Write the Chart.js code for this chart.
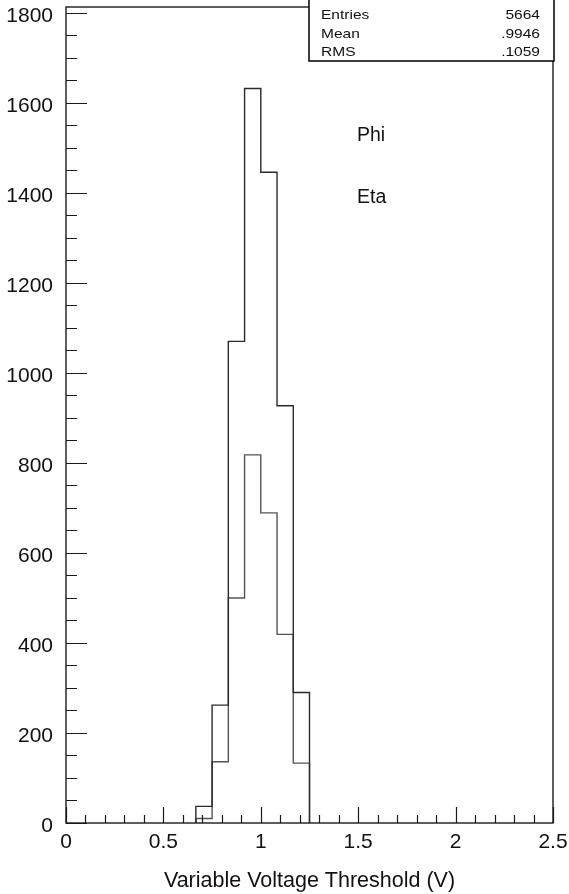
<!DOCTYPE html>
<html>
<head>
<meta charset="utf-8">
<script src="https://cdn.jsdelivr.net/npm/chart.js@4.4.1/dist/chart.umd.min.js"></script>
<style>
  html, body { margin: 0; padding: 0; background: #fff; }
  #wrap { width: 569px; height: 894px; }
</style>
</head>
<body>
<div id="wrap"><canvas id="histChart" width="569" height="894"></canvas></div>
<script>
// bin edges of the filled bins (30 bins over 0..2.5, width 1/12)
const binEdges = [8 / 12, 9 / 12, 10 / 12, 11 / 12, 12 / 12, 13 / 12, 14 / 12, 15 / 12];
// outer histogram (all entries) and inner histogram
const outerCounts = [37, 262, 1070, 1632, 1446, 927, 290];
const innerCounts = [10, 136, 500, 818, 689, 419, 133];
const xTickValues = [0, 0.5, 1, 1.5, 2, 2.5];
const yTickValues = [0, 200, 400, 600, 800, 1000, 1200, 1400, 1600, 1800];
const statLabels = ["Entries", "Mean", "RMS"];
const statValues = ["5664", ".9946", ".1059"];
const notes = ["Phi", "Eta"];

const FONT = "'Liberation Sans', Arial, Helvetica, sans-serif";

// turn bin counts into the outline points of a step histogram
const toSteps = (edges, counts) => {
  const pts = [{ x: edges[0], y: 0 }];
  counts.forEach((c, i) => pts.push({ x: edges[i], y: c }));
  pts.push({ x: edges[edges.length - 1], y: 0 });
  return pts;
};

const rootFrame = {
  id: "rootFrame",
  afterDraw(c) {
    const { ctx, chartArea: a, scales } = c;
    const xs = scales.x, ys = scales.y;
    ctx.save();
    ctx.strokeStyle = "#1a1a1a";
    ctx.lineWidth = 1.4;
    ctx.strokeRect(a.left, a.top, a.right - a.left, a.bottom - a.top);

    // inward ticks on the left axis (4 per major step)
    ctx.lineWidth = 1.2;
    ctx.beginPath();
    const step = yTickValues[1] - yTickValues[0];
    for (let v = 0; v <= ys.max; v += step / 4) {
      const py = Math.round(ys.getPixelForValue(v)) + 0.5;
      const len = v % step === 0 ? 21 : 11;
      ctx.moveTo(a.left, py);
      ctx.lineTo(a.left + len, py);
    }
    // inward ticks on the bottom axis
    for (let k = 0; k <= 25; k++) {
      const px = Math.round(xs.getPixelForValue(k / 10)) + 0.5;
      const len = k % 5 === 0 ? 16 : 8;
      ctx.moveTo(px, a.bottom);
      ctx.lineTo(px, a.bottom - len);
    }
    ctx.stroke();

    // stats box
    const bx = 309, by = -2, bw = 245, bh = 63;
    ctx.fillStyle = "#fff";
    ctx.fillRect(bx, by, bw, bh);
    ctx.strokeStyle = "#000";
    ctx.lineWidth = 1.5;
    ctx.strokeRect(bx, by, bw, bh);
    ctx.fillStyle = "#111";
    ctx.font = "13.5px " + FONT;
    ctx.textBaseline = "alphabetic";
    const sx = 1.15; // the original text is a bit stretched sideways
    statLabels.forEach((lab, i) => {
      const y = 19 + i * 18.5;
      ctx.save();
      ctx.scale(sx, 1);
      ctx.textAlign = "left";
      ctx.fillText(lab, 321 / sx, y);
      ctx.textAlign = "right";
      ctx.fillText(statValues[i], 540 / sx, y);
      ctx.restore();
    });

    // text annotations
    ctx.font = "19.5px " + FONT;
    ctx.textAlign = "left";
    ctx.fillText(notes[0], 357, 141);
    ctx.fillText(notes[1], 357, 203);
    ctx.restore();
  },
};

new Chart(document.getElementById("histChart"), {
  type: "line",
  data: {
    datasets: [
      {
        label: "outer",
        data: toSteps(binEdges, outerCounts),
        borderColor: "#2a2a2a",
        borderWidth: 1.4,
        stepped: "before",
        pointRadius: 0,
        fill: false,
      },
      {
        label: "inner",
        data: toSteps(binEdges, innerCounts),
        borderColor: "#555",
        borderWidth: 1.4,
        stepped: "before",
        pointRadius: 0,
        fill: false,
      },
    ],
  },
  options: {
    responsive: false,
    animation: false,
    layout: {
      padding: { top: 7, right: 16, left: 0, bottom: 0 },
    },
    scales: {
      x: {
        type: "linear",
        min: 0,
        max: 2.5,
        afterFit: (s) => {
          s.height = 71;
          s.paddingLeft = 0;
          s.paddingRight = 0;
        },
        afterBuildTicks: (s) => { s.ticks = xTickValues.map((v) => ({ value: v })); },
        grid: { display: false, drawTicks: false },
        border: { display: false },
        ticks: {
          autoSkip: false,
          maxRotation: 0,
          padding: 7,
          color: "#111",
          font: { family: FONT, size: 21 },
          callback: (v) => String(Math.round(v * 10) / 10),
        },
        title: {
          display: true,
          text: "Variable Voltage Threshold (V)",
          color: "#111",
          font: { family: FONT, size: 21.5 },
          padding: { top: 0, bottom: 0 },
        },
      },
      y: {
        min: 0,
        max: 1813,
        afterFit: (s) => {
          s.width = 66;
          s.paddingTop = 0;
          s.paddingBottom = 0;
        },
        afterBuildTicks: (s) => { s.ticks = yTickValues.map((v) => ({ value: v })); },
        grid: { display: false, drawTicks: false },
        border: { display: false },
        ticks: {
          padding: 13,
          labelOffset: 3,
          color: "#111",
          font: { family: FONT, size: 21 },
          callback: (v) => String(v),
        },
      },
    },
    plugins: {
      legend: { display: false },
      tooltip: { enabled: false },
    },
  },
  plugins: [rootFrame],
});
</script>
</body>
</html>
